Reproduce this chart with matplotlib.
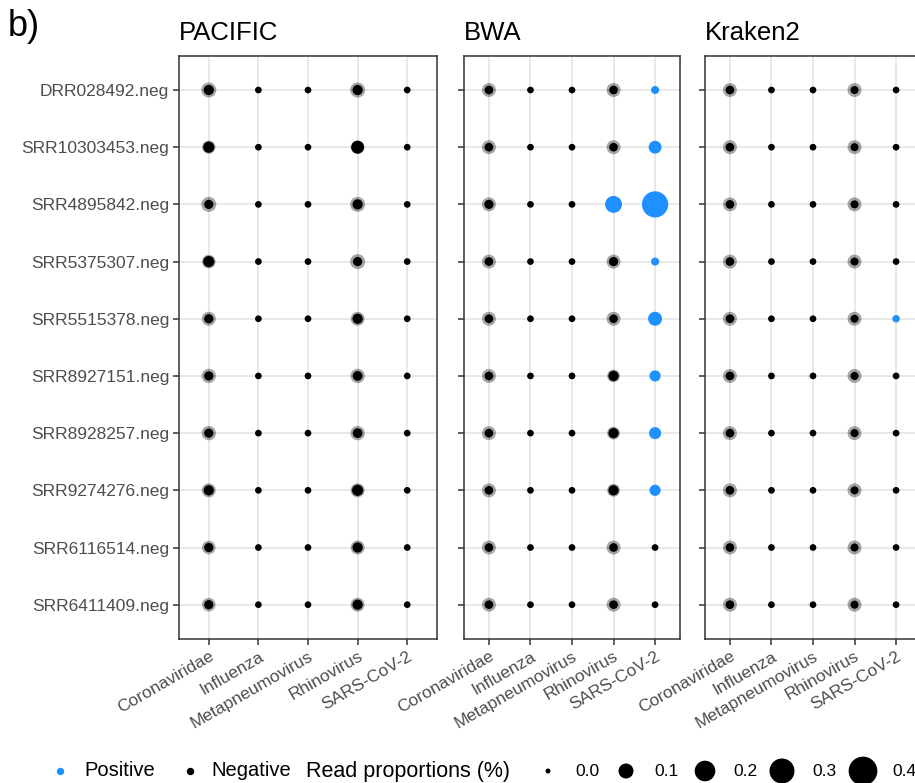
import numpy as np
import matplotlib.pyplot as plt
import matplotlib as mpl

mpl.rcParams["font.family"] = ["Liberation Sans", "DejaVu Sans"]

# samples (top to bottom) and virus categories
samples = ["DRR028492.neg", "SRR10303453.neg", "SRR4895842.neg", "SRR5375307.neg",
           "SRR5515378.neg", "SRR8927151.neg", "SRR8928257.neg", "SRR9274276.neg",
           "SRR6116514.neg", "SRR6411409.neg"]
viruses = ["Coronaviridae", "Influenza", "Metapneumovirus", "Rhinovirus", "SARS-CoV-2"]
panels = ["PACIFIC", "BWA", "Kraken2"]

# read proportions (%) of the main point, one row per sample, columns = viruses
pacific_val = [[0.04, 0.01, 0.01, 0.04, 0.01],
               [0.05, 0.01, 0.01, 0.07, 0.01],
               [0.03, 0.01, 0.01, 0.04, 0.01],
               [0.05, 0.01, 0.01, 0.03, 0.01],
               [0.03, 0.01, 0.01, 0.04, 0.01],
               [0.03, 0.01, 0.01, 0.035, 0.01],
               [0.03, 0.01, 0.01, 0.035, 0.01],
               [0.04, 0.01, 0.01, 0.05, 0.01],
               [0.03, 0.01, 0.01, 0.04, 0.01],
               [0.03, 0.01, 0.01, 0.04, 0.01]]
bwa_val = [[0.025, 0.01, 0.01, 0.025, 0.02],
           [0.025, 0.01, 0.01, 0.025, 0.07],
           [0.03, 0.01, 0.01, 0.13, 0.33],
           [0.025, 0.01, 0.01, 0.03, 0.02],
           [0.025, 0.01, 0.01, 0.025, 0.085],
           [0.025, 0.01, 0.01, 0.04, 0.05],
           [0.025, 0.01, 0.01, 0.04, 0.06],
           [0.025, 0.01, 0.01, 0.04, 0.05],
           [0.025, 0.01, 0.01, 0.025, 0.01],
           [0.025, 0.01, 0.01, 0.025, 0.01]]
kraken_val = [[0.025, 0.01, 0.01, 0.02, 0.01],
              [0.025, 0.01, 0.01, 0.02, 0.01],
              [0.025, 0.01, 0.01, 0.02, 0.01],
              [0.025, 0.01, 0.01, 0.02, 0.01],
              [0.025, 0.01, 0.01, 0.02, 0.015],
              [0.025, 0.01, 0.01, 0.02, 0.01],
              [0.025, 0.01, 0.01, 0.02, 0.01],
              [0.025, 0.01, 0.01, 0.02, 0.01],
              [0.025, 0.01, 0.01, 0.02, 0.01],
              [0.025, 0.01, 0.01, 0.02, 0.01]]

# read proportions of the faded (grey) points underneath
pacific_halo = [[0.10, 0, 0, 0.10, 0],
                [0.075, 0, 0, 0.08, 0],
                [0.10, 0, 0, 0.10, 0],
                [0.08, 0, 0, 0.10, 0],
                [0.085, 0, 0, 0.085, 0],
                [0.09, 0, 0, 0.09, 0],
                [0.09, 0, 0, 0.09, 0],
                [0.085, 0, 0, 0.085, 0],
                [0.08, 0, 0, 0.085, 0],
                [0.08, 0, 0, 0.085, 0]]
bwa_halo = [[0.085, 0, 0, 0.085, 0],
            [0.085, 0, 0, 0.085, 0],
            [0.085, 0, 0, 0, 0],
            [0.085, 0, 0, 0.085, 0],
            [0.085, 0, 0, 0.085, 0],
            [0.085, 0, 0, 0.07, 0],
            [0.085, 0, 0, 0.07, 0],
            [0.085, 0, 0, 0.07, 0],
            [0.085, 0, 0, 0.085, 0],
            [0.085, 0, 0, 0.085, 0]]
kraken_halo = [[0.085, 0, 0, 0.085, 0] for _ in range(10)]

# positive calls (1 = positive)
pacific_pos = [[0, 0, 0, 0, 0] for _ in range(10)]
bwa_pos = [[0, 0, 0, 0, 1],
           [0, 0, 0, 0, 1],
           [0, 0, 0, 1, 1],
           [0, 0, 0, 0, 1],
           [0, 0, 0, 0, 1],
           [0, 0, 0, 0, 1],
           [0, 0, 0, 0, 1],
           [0, 0, 0, 0, 1],
           [0, 0, 0, 0, 0],
           [0, 0, 0, 0, 0]]
kraken_pos = [[0, 0, 0, 0, 0] for _ in range(10)]
kraken_pos[4][4] = 1

legend_sizes = [0.0, 0.1, 0.2, 0.3, 0.4]

BLUE = "#1E90FF"


def size_pt2(v):
    # marker area (pt^2) from read proportion, diameter^2 = 25 + 2000*v in pixels
    d_px2 = 25 + 2000 * np.asarray(v, dtype=float)
    return d_px2 * 0.72 ** 2


fig = plt.figure(figsize=(9.15, 7.83), dpi=100)
W, H = 915, 783
top, bottom = 55.7, 639
boxes = [(179, 258), (464, 216), (705, 216)]
data = [(pacific_val, pacific_halo, pacific_pos),
        (bwa_val, bwa_halo, bwa_pos),
        (kraken_val, kraken_halo, kraken_pos)]

ny, nx = len(samples), len(viruses)
for k, (name, (left, width), (val, halo, pos)) in enumerate(zip(panels, boxes, data)):
    ax = fig.add_axes([left / W, 1 - bottom / H, width / W, (bottom - top) / H])
    val = np.array(val)
    halo = np.array(halo)
    pos = np.array(pos)
    xx, yy = np.meshgrid(np.arange(nx), np.arange(ny))
    hm = halo > 0
    ax.scatter(xx[hm], yy[hm], s=size_pt2(halo[hm]), color="black", alpha=0.35,
               linewidths=0, zorder=3)
    cols = np.where(pos == 1, BLUE, "black")
    ax.scatter(xx.ravel(), yy.ravel(), s=size_pt2(val.ravel()), c=cols.ravel(),
               linewidths=0, zorder=4)
    ax.set_xlim(-0.6, nx - 0.4)
    ax.set_ylim(ny - 0.4, -0.6)
    ax.set_xticks(range(nx))
    ax.set_yticks(range(ny))
    ax.set_xticklabels(viruses, rotation=30, ha="right", va="top",
                       rotation_mode="anchor", fontsize=12.5, color="#4d4d4d")
    if k == 0:
        ax.set_yticklabels(samples, fontsize=12.5, color="#4d4d4d")
    else:
        ax.set_yticklabels([])
    ax.tick_params(length=4, width=1.1, color="#333333", pad=3)
    ax.grid(True, color="#e6e6e6", linewidth=1.3, zorder=0)
    ax.set_axisbelow(True)
    for sp in ax.spines.values():
        sp.set_color("#333333")
        sp.set_linewidth(1.1)
    ax.set_title(name, loc="left", fontsize=18.5, pad=11)

fig.text(8 / W, 1 - 36 / H, "b)", fontsize=26, va="baseline", ha="left")

# legend strip at the bottom
lg = fig.add_axes([0, 0, 1, 60 / H])
lg.set_xlim(0, W)
lg.set_ylim(0, 60)
lg.axis("off")
ly = H - 771
lg.scatter([60], [ly], s=size_pt2(0.015), color=BLUE, linewidths=0)
lg.text(84, ly, "Positive", fontsize=14.5, va="center", ha="left")
lg.scatter([190], [ly], s=size_pt2(0.015), color="black", linewidths=0)
lg.text(211, ly, "Negative", fontsize=14.5, va="center", ha="left")
lg.text(306, ly, "Read proportions (%)", fontsize=15.5, va="center", ha="left")
dot_x = [548, 626, 705, 782, 863]
lab_x = [575, 654, 733, 812, 892]
lg.scatter(dot_x, [ly] * 5, s=size_pt2(legend_sizes), color="black", linewidths=0)
for x, v in zip(lab_x, legend_sizes):
    lg.text(x, ly, f"{v:.1f}", fontsize=12.5, va="center", ha="left")

fig.savefig("out.png", dpi=100)
